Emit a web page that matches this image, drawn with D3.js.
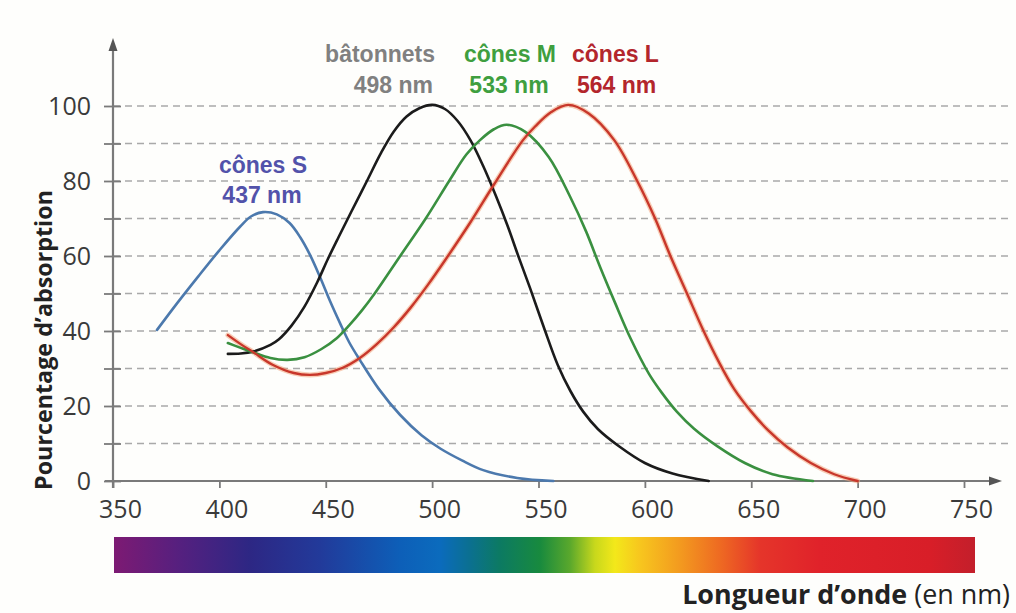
<!DOCTYPE html>
<html><head><meta charset="utf-8">
<script src="https://cdn.jsdelivr.net/npm/d3@7"></script>
<style>body{margin:0;background:#fefefc} svg{display:block}</style>
</head><body>
<svg id="c" width="1016" height="613"></svg>
<script>
// ---------- data ----------
const wavelengthTicks = [350,400,450,500,550,600,650,700,750];
const absorptionTicks = [0,10,20,30,40,50,60,70,80,90,100];
const labeledTicks = [0,20,40,60,80,100];

const conesS_nm  = [370.7,380,390,400,409.7,415,420.5,427,433,438,442.6,447.3,452,456.7,461,466,475,485,495,504,514,524,540,557];
const conesS_abs = [40.3,47.3,54.5,61.5,67.8,70.6,71.7,71.1,68.8,65,60.3,54.4,48,42.1,37,32.3,24.5,17.6,12.2,8.6,5.5,2.9,0.8,0];

const batonnets_nm  = [404,410,415.8,424,428,434,440,446,451,456,462,469,476,482,488,494,500,506,512,518,524,530,535.5,540.5,546,552.5,559,565,571,578,588,600,613,630];
const batonnets_abs = [33.9,34,34.5,36.3,37.8,41.5,46.5,53,59.2,65,71.8,79.6,87.5,93.2,97.2,99.4,100.3,99.2,96,90.9,84,76,68,60,51.5,41,31,24,18.5,13.8,9.2,4.8,2,0];

const conesM_nm  = [404,410,415.8,424,432,440,448,455,461,467,473,485,497,508,516,522.5,529,535,543.8,554.8,564.7,572.4,579,586,593.3,602,608,615,623,634,647,660,679];
const conesM_abs = [36.8,35.5,34.3,32.8,32.3,33,35.2,38,41.5,45.5,50,60,70,80,87,90.9,93.8,95,93.1,86.4,76,66.5,57,47.5,38,28.5,23.5,18.5,14,9.3,4.8,1.8,0];

const conesL_nm  = [404,410,415.8,425,435,442.6,450,458,466,474,482,490,498,506,518,529,542.7,548.5,556,564,573.6,585.6,596.4,604.8,612,619.8,627.6,635,642,650,658,667,678,689,700];
const conesL_abs = [38.9,36.5,34.4,31,28.8,28.3,28.8,30.2,32.8,36.5,41,46.3,52.3,58.8,69,79,90.9,94.6,98.4,100.3,98,90.9,80,70,60,50,40,31.5,24.5,18.5,13.5,9,4.8,1.8,0];

const spectrumStops = ["#7d1a73","#55207f","#2d2784","#223a9a","#0d5fb8","#0b6bbd","#0b7090","#0c7a62","#188a3e","#5aa82c","#c8d81c","#f3e81a","#f7c61e","#f39a1f","#ee6a22","#e5352a","#e0222a","#d81e28","#c31f2b"];
const spectrumPos   = [114,180,250,320,400,440,470,500,540,570,595,615,640,680,720,760,820,930,975];

// ---------- layout ----------
const svg = d3.select("#c");
const x = d3.scaleLinear().domain([350,750]).range([113,964]);
const y = d3.scaleLinear().domain([0,100]).range([481,106]);
const AX = "#7a7a7a";
const tickFont = "'Open Sans', 'DejaVu Sans', sans-serif";
const labFont = "'Liberation Sans', Arial, sans-serif";

svg.append("rect").attr("width",1016).attr("height",613).attr("fill","#fefefc");

// gridlines
svg.append("g").selectAll("line").data(absorptionTicks.filter(d=>d>0)).join("line")
  .attr("x1", x(350)).attr("x2", 1008)
  .attr("y1", d=>y(d)).attr("y2", d=>y(d))
  .attr("stroke","#a9a9a9").attr("stroke-width",1.6).attr("stroke-dasharray","7,5");

// y axis
const gy = svg.append("g").attr("transform",`translate(${x(350)},0)`)
  .call(d3.axisLeft(y).tickValues(absorptionTicks).tickFormat(d=>labeledTicks.includes(d)?d:"").tickSize(9).tickPadding(13));
gy.select(".domain").remove();
gy.selectAll(".tick line").attr("x1",8).attr("x2",-9).attr("stroke",AX).attr("stroke-width",1.8);
gy.selectAll(".tick text").attr("font-family",tickFont).attr("font-size",25).attr("fill","#3a3a3a").attr("dy","0.35em");

// x axis
const gx = svg.append("g").attr("transform",`translate(0,${y(0)})`)
  .call(d3.axisBottom(x).tickValues(wavelengthTicks).tickSize(7));
gx.select(".domain").remove();
gx.selectAll(".tick line").attr("stroke",AX).attr("stroke-width",1.8);
gx.selectAll(".tick text").attr("font-family",tickFont).attr("font-size",25).attr("fill","#3a3a3a")
  .attr("y",37).attr("dy",0).attr("dx",7);

// axis lines with arrows
svg.append("line").attr("x1",x(350)).attr("x2",x(350)).attr("y1",y(0)+7).attr("y2",46).attr("stroke",AX).attr("stroke-width",2.2);
svg.append("path").attr("d",`M${x(350)},38 L${x(350)-4.5},51 L${x(350)+4.5},51 Z`).attr("fill","#555");
svg.append("line").attr("x1",x(350)-8).attr("x2",992).attr("y1",y(0)).attr("y2",y(0)).attr("stroke",AX).attr("stroke-width",2.2);
svg.append("path").attr("d",`M1002,${y(0)} L989,${y(0)-4.5} L989,${y(0)+4.5} Z`).attr("fill","#555");

// curves
const line = d3.line().x(d=>x(d[0])).y(d=>y(d[1])).curve(d3.curveCatmullRom.alpha(0.5));
const zip = (a,b)=>a.map((v,i)=>[v,b[i]]);
const curves = svg.append("g").attr("fill","none").attr("stroke-linecap","round").attr("stroke-linejoin","round");
curves.append("path").attr("d",line(zip(conesL_nm,conesL_abs))).attr("stroke","#f2a47c").attr("stroke-width",5).attr("opacity",0.55);
curves.append("path").attr("d",line(zip(conesS_nm,conesS_abs))).attr("stroke","#4c79ad").attr("stroke-width",2.6);
curves.append("path").attr("d",line(zip(batonnets_nm,batonnets_abs))).attr("stroke","#1b1b1b").attr("stroke-width",2.6);
curves.append("path").attr("d",line(zip(conesM_nm,conesM_abs))).attr("stroke","#3a9040").attr("stroke-width",2.6);
curves.append("path").attr("d",line(zip(conesL_nm,conesL_abs))).attr("stroke","#c8372b").attr("stroke-width",2.4);

// curve labels
function lab(txt,xx,yy,anchor,color){
  return svg.append("text").text(txt).attr("x",xx).attr("y",yy).attr("text-anchor",anchor)
    .attr("font-family",labFont).attr("font-weight","bold").attr("font-size",23).attr("fill",color);
}
lab("bâtonnets",435,62,"end","#808080");
lab("498 nm",433,93,"end","#808080");
lab("cônes M",510,62,"middle","#3f9f3f");
lab("533 nm",509,93,"middle","#3f9f3f");
lab("cônes L",572,62,"start","#b3262c");
lab("564 nm",577,93,"start","#b3262c");
lab("cônes S",263,173,"middle","#5252aa");
lab("437 nm",262,203,"middle","#5252aa");

// y title
const yt = svg.append("text").attr("transform","translate(52,340) rotate(-90)").attr("text-anchor","middle")
  .attr("font-family",tickFont).attr("font-weight","bold").attr("font-size",20).attr("fill","#222")
  .text("Pourcentage d’absorption");
{ const w = yt.node().getComputedTextLength(); yt.attr("font-size", 20*300/w); }

// spectrum bar
const defs = svg.append("defs");
const grad = defs.append("linearGradient").attr("id","spec").attr("gradientUnits","userSpaceOnUse")
  .attr("x1",114).attr("x2",975).attr("y1",0).attr("y2",0);
grad.selectAll("stop").data(spectrumStops).join("stop")
  .attr("offset",(d,i)=>((spectrumPos[i]-114)/(975-114))).attr("stop-color",d=>d);
svg.append("rect").attr("x",114).attr("y",537).attr("width",861).attr("height",36).attr("fill","url(#spec)");

// x title
const xt = svg.append("text").attr("x",1010).attr("y",604).attr("text-anchor","end")
  .attr("font-family",tickFont).attr("font-size",22).attr("fill","#222");
xt.append("tspan").attr("font-weight","bold").text("Longueur d’onde");
xt.append("tspan").attr("font-weight","normal").text(" (en nm)");
{ const w = xt.node().getComputedTextLength(); xt.attr("font-size", 22*328/w); }
</script>
</body></html>
